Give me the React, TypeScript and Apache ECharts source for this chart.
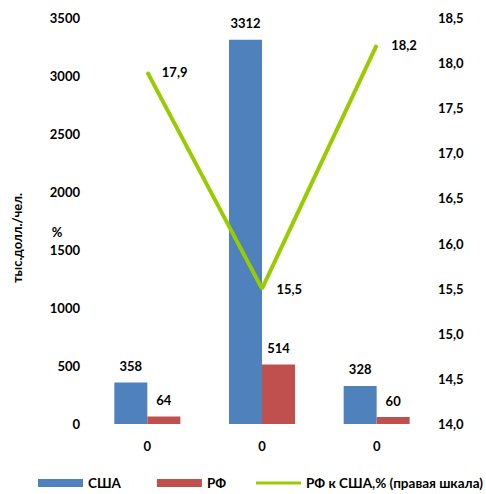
import React, { useEffect, useRef } from "react";
import * as echarts from "echarts";

const categories = ["0", "0", "0"];
const usa = [358, 3312, 328];
const rf = [64, 514, 60];
const ratio = [17.9, 15.5, 18.2];

const FONT = "Lato";
const comma = (v: number) => v.toFixed(1).replace(".", ",");

export default function App() {
  const ref = useRef<HTMLDivElement>(null);
  useEffect(() => {
    const chart = echarts.init(ref.current!, null, { renderer: "svg" });
    const txt = { fontFamily: FONT, fontWeight: "bold" as const, fontSize: 13, color: "#000" };
    chart.setOption({
      animation: false,
      textStyle: { fontFamily: FONT },
      grid: { left: 90, right: 52, top: 18, bottom: 70 },
      legend: [
        {
          top: 476,
          left: 38,
          itemWidth: 45,
          itemHeight: 8,
          itemGap: 36,
          padding: 0,
          textStyle: { ...txt, fontSize: 13.5 },
          data: [
            { name: "США", icon: "rect" },
            { name: "РФ", icon: "rect" },
          ],
        },
        {
          top: 476,
          left: 256,
          itemWidth: 45,
          itemHeight: 3,
          padding: 0,
          textStyle: { ...txt, fontSize: 13.5 },
          data: [{ name: "РФ к США,% (правая шкала)", icon: "rect" }],
        },
      ],
      graphic: [
        {
          type: "text",
          x: 17,
          y: 238,
          rotation: Math.PI / 2,
          style: { text: "тыс.долл./чел.", font: `bold 13px ${FONT}`, fill: "#000", align: "center", verticalAlign: "middle" },
        },
        {
          type: "text",
          x: 57,
          y: 232,
          style: { text: "%", font: `bold 13px ${FONT}`, fill: "#000", align: "center", verticalAlign: "middle" },
        },
      ],
      xAxis: {
        type: "category",
        data: categories,
        axisLine: { show: false },
        axisTick: { show: false },
        axisLabel: { ...txt, margin: 15 },
      },
      yAxis: [
        {
          type: "value",
          min: 0,
          max: 3500,
          interval: 500,
          splitLine: { show: false },
          axisLine: { show: false },
          axisTick: { show: false },
          axisLabel: { ...txt, margin: 10, formatter: (v: number) => String(v) },
        },
        {
          type: "value",
          min: 14,
          max: 18.5,
          interval: 0.5,
          splitLine: { show: false },
          axisLine: { show: false },
          axisTick: { show: false },
          axisLabel: { ...txt, margin: 4, formatter: (v: number) => comma(v) },
        },
      ],
      series: [
        {
          name: "США",
          type: "bar",
          data: usa,
          barWidth: 33,
          barGap: "0%",
          itemStyle: { color: "#4F81BD" },
          label: { show: true, position: "top", distance: 10, ...txt },
        },
        {
          name: "РФ",
          type: "bar",
          data: rf,
          barWidth: 33,
          barGap: "0%",
          itemStyle: { color: "#C0504D" },
          label: { show: true, position: "top", distance: 10, ...txt },
        },
        {
          name: "РФ к США,% (правая шкала)",
          type: "line",
          yAxisIndex: 1,
          data: ratio,
          symbol: "circle",
          symbolSize: 1,
          showSymbol: true,
          lineStyle: { color: "#99CC00", width: 4 },
          itemStyle: { color: "#99CC00" },
          label: { show: true, position: "right", distance: 14, ...txt, formatter: (p: any) => comma(p.value) },
        },
      ],
    });
    return () => chart.dispose();
  }, []);
  return <div ref={ref} style={{ position: "absolute", left: 0, top: 0, width: 486, height: 494 }} />;
}
